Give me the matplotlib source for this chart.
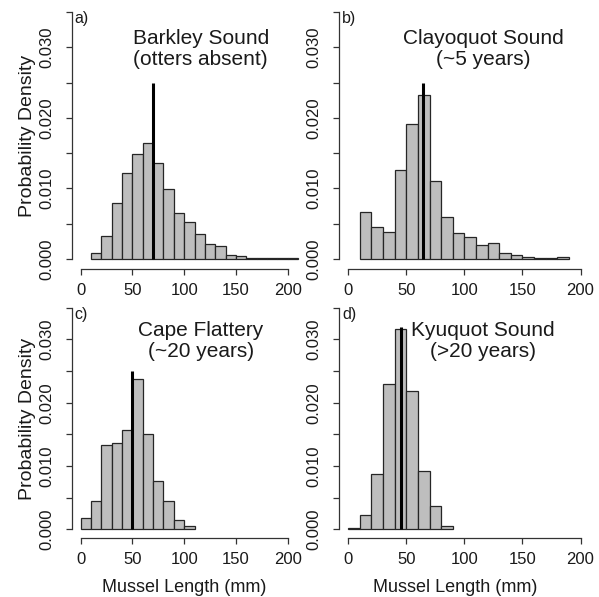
import numpy as np
import matplotlib
matplotlib.use('Agg')
import matplotlib.pyplot as plt

plt.rcParams['font.family'] = ['Liberation Sans', 'DejaVu Sans']

# histogram densities, 10 mm bins
bin_width = 10
barkley_start = 10
barkley_dens = [0.00085, 0.0033, 0.0080, 0.0122, 0.0149, 0.0165, 0.0136, 0.0099, 0.0065, 0.0052,
                0.0035, 0.0022, 0.0018, 0.0006, 0.0005, 0.0001, 0.0001, 0.0001, 0.0001, 0.0001]
clayoquot_start = 10
clayoquot_dens = [0.0066, 0.0045, 0.0039, 0.0126, 0.0191, 0.0232, 0.0110, 0.0059, 0.0037,
                  0.0031, 0.0020, 0.0023, 0.0009, 0.0006, 0.0003, 0.0002, 0.0002, 0.0003]
cape_start = 0
cape_dens = [0.0017, 0.0044, 0.0133, 0.0137, 0.0157, 0.0237, 0.0150, 0.0076, 0.0044, 0.0014, 0.0005]
kyuquot_start = 0
kyuquot_dens = [0.0002, 0.0022, 0.0087, 0.0230, 0.0316, 0.0219, 0.0092, 0.0036, 0.0005]

# mean lengths (vertical line) and line heights
means = [70, 64, 50, 45.5]
mean_tops = [0.025, 0.025, 0.025, 0.032]

titles = ['Barkley Sound\n(otters absent)', 'Clayoquot Sound\n(~5 years)',
          'Cape Flattery\n(~20 years)', 'Kyuquot Sound\n(>20 years)']
panel_tags = ['a)', 'b)', 'c)', 'd)']
x_ticks = [0, 50, 100, 150, 200]
y_ticks = [0.000, 0.005, 0.010, 0.015, 0.020, 0.025, 0.030, 0.035]
y_ticklabels = ['0.000', '', '0.010', '', '0.020', '', '0.030', '']

starts = [barkley_start, clayoquot_start, cape_start, kyuquot_start]
dens = [barkley_dens, clayoquot_dens, cape_dens, kyuquot_dens]

W, H = 599, 597
fig = plt.figure(figsize=(W / 100, H / 100), dpi=100)

# axes boxes in pixels: left, right, top, bottom
boxes = [(72, 306.7, 2, 269), (339.4, 580.5, 2, 269),
         (72, 306.7, 299, 538), (339.4, 580.5, 299, 538)]
xlims = [(-8.4, 218.4), (-7.6, 197.6), (-8.4, 218.4), (-7.6, 197.6)]

for i in range(4):
    l, r, t, b = boxes[i]
    ax = fig.add_axes([l / W, 1 - b / H, (r - l) / W, (b - t) / H])
    d = np.array(dens[i])
    edges = starts[i] + bin_width * np.arange(len(d))
    ax.bar(edges, d, width=bin_width, align='edge', color='#bebebe',
           edgecolor='#262626', linewidth=0.9)
    ax.plot([means[i], means[i]], [0, mean_tops[i]], color='black', lw=2.2,
            solid_capstyle='butt')

    ax.set_xlim(*xlims[i])
    ax.set_ylim(-0.0014, 0.0364)
    for s in ['top', 'right']:
        ax.spines[s].set_visible(False)
    ax.spines['left'].set_bounds(0, 0.035)
    ax.spines['bottom'].set_bounds(0, 200)
    for s in ['left', 'bottom']:
        ax.spines[s].set_color('#333333')
        ax.spines[s].set_linewidth(0.9)
    ax.set_xticks(x_ticks)
    ax.set_yticks(y_ticks)
    ax.set_yticklabels(y_ticklabels)
    ax.tick_params(axis='both', direction='out', length=4.5, width=0.9,
                   color='#333333', labelsize=12, labelcolor='#1a1a1a')
    ax.tick_params(axis='x', pad=5.5)
    ax.tick_params(axis='y', pad=8.5, labelrotation=90)
    for lab in ax.get_yticklabels():
        lab.set_va('center')

    ax.text(0.012, 0.034, panel_tags[i], transform=ax.get_yaxis_transform(),
            ha='left', va='center', fontsize=11.5, color='#1a1a1a')
    ax.text(116, 0.0297, titles[i], ha='center', va='center', fontsize=15,
            color='#1a1a1a', linespacing=1.15)

    if i % 2 == 0:
        ax.text((28 - l) / (r - l), 0.5, 'Probability Density', transform=ax.transAxes,
                rotation=90, ha='center', va='center', fontsize=14, color='#1a1a1a')
    if i >= 2:
        ax.text(0.48, -49 / (b - t), 'Mussel Length (mm)', transform=ax.transAxes,
                ha='center', va='center', fontsize=13, color='#1a1a1a')

fig.savefig('out.png', dpi=100)
